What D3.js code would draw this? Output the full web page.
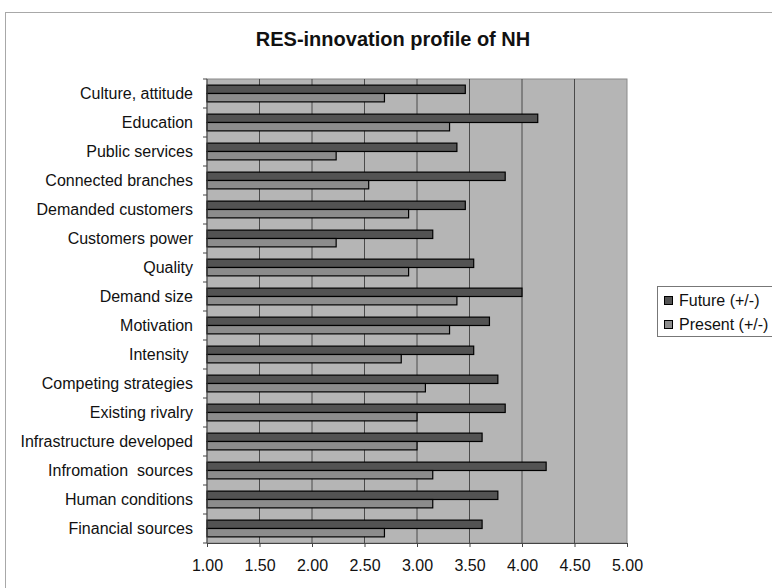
<!DOCTYPE html>
<html>
<head>
<meta charset="utf-8">
<script src="https://cdn.jsdelivr.net/npm/d3@7"></script>
<style>
  body { margin: 0; background: #fff; }
  text { font-family: "Liberation Sans", Arial, sans-serif; }
</style>
</head>
<body>
<div id="chart"></div>
<script>
const categories = [
  "Culture, attitude", "Education", "Public services", "Connected branches",
  "Demanded customers", "Customers power", "Quality", "Demand size",
  "Motivation", "Intensity ", "Competing strategies", "Existing rivalry",
  "Infrastructure developed", "Infromation  sources", "Human conditions",
  "Financial sources"
];
const futureValues = [3.46, 4.15, 3.38, 3.84, 3.46, 3.15, 3.54, 4.00,
  3.69, 3.54, 3.77, 3.84, 3.62, 4.23, 3.77, 3.62];
const presentValues = [2.69, 3.31, 2.23, 2.54, 2.92, 2.23, 2.92, 3.38,
  3.31, 2.85, 3.08, 3.00, 3.00, 3.15, 3.15, 2.69];
const seriesNames = ["Future (+/-)", "Present (+/-)"];
const xTicks = [1.0, 1.5, 2.0, 2.5, 3.0, 3.5, 4.0, 4.5, 5.0];

const W = 772, H = 588;
const margin = { top: 79, left: 207 };
const plotW = 420, plotH = 464;

const svg = d3.select("#chart").append("svg")
  .attr("width", W).attr("height", H);

// chart frame
svg.append("rect")
  .attr("x", 5.5).attr("y", 12.5)
  .attr("width", 800).attr("height", 600)
  .attr("fill", "#fff").attr("stroke", "#a8a8a8");

svg.append("text")
  .attr("x", 393).attr("y", 46)
  .attr("text-anchor", "middle")
  .attr("font-size", 20).attr("font-weight", "bold")
  .attr("fill", "#111")
  .text("RES-innovation profile of NH");

const g = svg.append("g")
  .attr("transform", "translate(" + margin.left + "," + margin.top + ")");

const x = d3.scaleLinear().domain([1, 5]).range([0, plotW]);
const y = d3.scaleBand().domain(categories).range([0, plotH]);
const ySub = d3.scaleBand().domain(seriesNames).range([0, y.bandwidth()])
  .paddingInner(0).paddingOuter(0.73);
const color = d3.scaleOrdinal().domain(seriesNames).range(["#535353", "#8c8c8c"]);

g.append("rect")
  .attr("width", plotW).attr("height", plotH)
  .attr("fill", "#b5b5b5").attr("stroke", "#8a8a8a");

g.selectAll(".grid")
  .data(xTicks.slice(1, -1))
  .enter().append("line")
  .attr("x1", d => x(d)).attr("x2", d => x(d))
  .attr("y1", 0).attr("y2", plotH)
  .attr("stroke", "#4a4a4a").attr("stroke-width", 1);

const rows = categories.map((c, i) => ({
  cat: c,
  vals: [
    { key: seriesNames[0], v: futureValues[i] },
    { key: seriesNames[1], v: presentValues[i] }
  ]
}));

g.selectAll(".row")
  .data(rows)
  .enter().append("g")
  .attr("transform", d => "translate(0," + y(d.cat) + ")")
  .selectAll("rect")
  .data(d => d.vals)
  .enter().append("rect")
  .attr("x", x(1))
  .attr("y", d => ySub(d.key))
  .attr("width", d => x(d.v) - x(1))
  .attr("height", ySub.bandwidth())
  .attr("fill", d => color(d.key))
  .attr("stroke", "#000").attr("stroke-width", 1.2);

// left axis with ticks at band boundaries
const yAxis = g.append("g");
yAxis.append("line")
  .attr("x1", 0).attr("x2", 0).attr("y1", 0).attr("y2", plotH)
  .attr("stroke", "#444");
const bounds = categories.map(c => y(c)).concat([plotH]);
yAxis.selectAll(".tk").data(bounds).enter().append("line")
  .attr("x1", -4).attr("x2", 0)
  .attr("y1", d => d).attr("y2", d => d)
  .attr("stroke", "#444");
yAxis.selectAll(".lbl").data(categories).enter().append("text")
  .attr("x", -14)
  .attr("y", d => y(d) + y.bandwidth() / 2)
  .attr("dy", "0.35em")
  .attr("text-anchor", "end")
  .attr("font-size", 16)
  .attr("fill", "#111")
  .attr("xml:space", "preserve")
  .style("white-space", "pre")
  .text(d => d);

// bottom axis
const xAxis = g.append("g")
  .attr("transform", "translate(0," + plotH + ")")
  .call(d3.axisBottom(x).tickValues(xTicks).tickFormat(d3.format(".2f"))
    .tickSize(4).tickSizeOuter(0).tickPadding(13));
xAxis.select(".domain").attr("stroke", "#444");
xAxis.selectAll(".tick line").attr("stroke", "#444");
xAxis.selectAll(".tick text")
  .attr("font-size", 16)
  .attr("font-family", "Liberation Sans, Arial, sans-serif")
  .attr("fill", "#111");

// legend
const lg = svg.append("g").attr("transform", "translate(657,286)");
lg.append("rect")
  .attr("x", 0.5).attr("y", 0.5)
  .attr("width", 140).attr("height", 50)
  .attr("fill", "#fff").attr("stroke", "#777");
seriesNames.forEach((s, i) => {
  lg.append("rect")
    .attr("x", 7.5).attr("y", 10.5 + i * 24)
    .attr("width", 8).attr("height", 8)
    .attr("fill", color(s)).attr("stroke", "#000");
  lg.append("text")
    .attr("x", 22).attr("y", 14.5 + i * 24)
    .attr("dy", "0.35em")
    .attr("font-size", 16)
    .attr("fill", "#111")
    .text(s);
});
</script>
</body>
</html>
